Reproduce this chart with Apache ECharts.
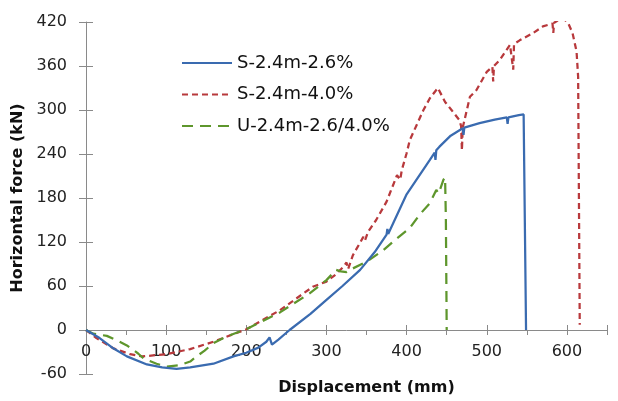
<!DOCTYPE html>
<html>
<head>
<meta charset="utf-8">
<script src="https://cdn.jsdelivr.net/npm/echarts@6/dist/echarts.min.js"></script>
<style>html,body{margin:0;padding:0;background:#fff}#c{width:618px;height:401px}</style>
</head>
<body>
<div id="c"></div>
<script>
// Series names
var seriesNames = ['S-2.4m-2.6%', 'S-2.4m-4.0%', 'U-2.4m-2.6/4.0%'];

// S-2.4m-2.6%
var blueX = [0, 17, 34, 51, 76, 95, 113, 130, 159, 184, 200, 215, 225, 229, 232, 240, 254, 280, 300, 320, 342, 360, 375, 376, 377, 400, 429, 435, 436, 437, 441, 455, 470, 471, 472, 491, 510, 525, 526, 527, 540, 546, 548, 549];
var blueY = [0, -11, -25, -36, -47, -51, -53, -51, -46, -36, -31, -24, -16, -10, -20, -13, 0, 22, 41, 60, 82, 106, 130, 138, 131, 185, 232, 242, 232, 245, 250, 265, 275, 266, 276, 282, 287, 290, 281, 290, 293, 294, 292, 0];

// S-2.4m-4.0%
var redX = [0, 13, 34, 55, 70, 100, 130, 159, 200, 242, 283, 300, 312, 321, 325, 327, 333, 346, 348, 352, 362, 375, 388, 392, 394, 400, 404, 421, 429, 439, 448, 456, 466, 468, 469, 470, 479, 487, 500, 507, 508, 509, 516, 529, 533, 534, 541, 558, 570, 582, 583, 584, 587, 593, 601, 607, 612, 614, 616];
var redY = [0, -11, -25, -33, -36, -33, -26, -16, 1, 27, 59, 66, 76, 86, 92, 83, 102, 127, 122, 134, 150, 175, 211, 205, 218, 241, 259, 300, 316, 330, 311, 300, 286, 278, 245, 276, 318, 327, 352, 359, 339, 360, 368, 389, 355, 390, 395, 405, 414, 418, 405, 419, 421, 426, 420, 405, 380, 345, 7];

// U-2.4m-2.6/4.0%
var greenX = [0, 9, 26, 42, 51, 65, 72, 88, 101, 117, 130, 138, 148, 159, 175, 192, 200, 242, 279, 300, 312, 318, 325, 333, 350, 371, 388, 404, 416, 429, 437, 440, 446, 448, 449, 450];
var greenY = [0, -5, -8, -16, -21, -32, -39, -46, -50, -48, -43, -36, -28, -18, -9, -2, 1, 24, 50, 68, 82, 80, 79, 84, 93, 109, 125, 139, 157, 173, 191, 186, 205, 208, 150, 0];

// Axis ticks
var xMin = 0, xMax = 650, xStep = 50, xLabelStep = 100;
var yMin = -60, yMax = 420, yStep = 60;

function zip(xs, ys) { return xs.map(function (x, i) { return [x, ys[i]]; }); }

var FONT = 'DejaVu Sans';
var GRID_TOP = 22, GRID_BOTTOM = 27, H = 401;
// move the x axis up from the grid bottom to the y = 0 line
var plotH = H - GRID_TOP - GRID_BOTTOM;
var zeroOffset = -plotH * (0 - yMin) / (yMax - yMin);

var chart = echarts.init(document.getElementById('c'), null, { renderer: 'canvas' });
chart.setOption({
  animation: false,
  backgroundColor: '#ffffff',
  grid: { left: 86, right: 11, top: GRID_TOP, bottom: GRID_BOTTOM, containLabel: false, outerBoundsMode: 'none' },
  legend: {
    orient: 'vertical',
    left: 176, top: 49,
    itemWidth: 50, itemHeight: 14, itemGap: 13.5,
    itemStyle: { opacity: 0 },
    textStyle: { fontFamily: FONT, fontSize: 18, color: '#111' },
    data: seriesNames
  },
  xAxis: [{
    type: 'value', min: xMin, max: xMax, interval: xStep, position: 'bottom', offset: zeroOffset,
    axisLine: { onZero: false, lineStyle: { color: '#8a8a8a', width: 1 } },
    axisTick: { show: true, inside: false, length: 5, lineStyle: { color: '#8a8a8a' } },
    axisLabel: {
      fontFamily: FONT, fontSize: 16, color: '#222', margin: 14,
      formatter: function (v) { return v % xLabelStep === 0 ? String(v) : ''; }
    },
    splitLine: { show: false },
    name: 'Displacement (mm)', nameLocation: 'middle', nameGap: 50,
    nameTextStyle: { fontFamily: FONT, fontSize: 16, fontWeight: 'bold', color: '#111', padding: [0, 0, 0, 40] }
  }, {
    type: 'value', min: xMin, max: xMax, interval: xLabelStep, position: 'bottom', offset: zeroOffset,
    axisLine: { show: false, onZero: false },
    axisTick: { show: true, inside: true, length: 5, lineStyle: { color: '#8a8a8a' } },
    axisLabel: { show: false },
    splitLine: { show: false }
  }],
  yAxis: [{
    type: 'value', min: yMin, max: yMax, interval: yStep,
    axisLine: { show: true, onZero: false, lineStyle: { color: '#8a8a8a', width: 1 } },
    axisTick: { show: true, inside: false, length: 7, lineStyle: { color: '#8a8a8a' } },
    axisLabel: { fontFamily: FONT, fontSize: 16, color: '#222', margin: 19 },
    splitLine: { show: false },
    name: 'Horizontal force (kN)', nameLocation: 'middle', nameGap: 58,
    nameTextStyle: { fontFamily: FONT, fontSize: 16, fontWeight: 'bold', color: '#111' }
  }, {
    type: 'value', min: yMin, max: yMax, interval: yStep, position: 'left',
    axisLine: { show: false, onZero: false },
    axisTick: { show: true, inside: true, length: 7, lineStyle: { color: '#8a8a8a' } },
    axisLabel: { show: false },
    splitLine: { show: false }
  }],
  series: [{
    name: seriesNames[0], type: 'line', data: zip(blueX, blueY), showSymbol: false, symbol: 'none',
    lineStyle: { color: '#3A6BB0', width: 2.25, type: 'solid' }, itemStyle: { color: '#3A6BB0' }, z: 3
  }, {
    name: seriesNames[1], type: 'line', data: zip(redX, redY), showSymbol: false, symbol: 'none',
    lineStyle: { color: '#B8393C', width: 2.25, type: [6, 4] }, itemStyle: { color: '#B8393C' }, z: 2
  }, {
    name: seriesNames[2], type: 'line', data: zip(greenX, greenY), showSymbol: false, symbol: 'none',
    lineStyle: { color: '#5E962C', width: 2.25, type: [11, 7] }, itemStyle: { color: '#5E962C' }, z: 2
  }]
});
</script>
</body>
</html>
